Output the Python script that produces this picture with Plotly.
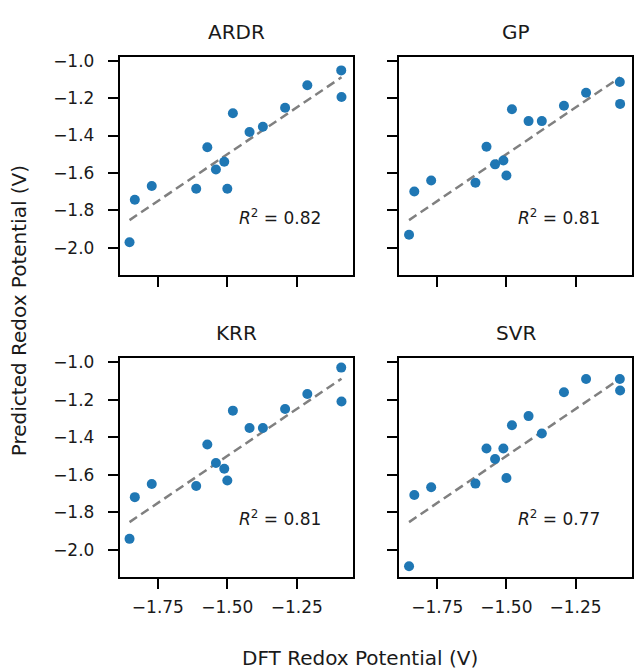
import plotly.graph_objects as go

# DFT-computed redox potentials (V), shared by every model
dft = [-1.852, -1.833, -1.772, -1.612, -1.572, -1.541, -1.511, -1.500,
       -1.480, -1.420, -1.372, -1.292, -1.212, -1.090, -1.089]

# Model predictions (V)
models = ["ARDR", "GP", "KRR", "SVR"]
pred_ardr = [-1.970, -1.743, -1.670, -1.684, -1.463, -1.582, -1.540, -1.684,
             -1.281, -1.381, -1.353, -1.252, -1.131, -1.052, -1.194]
pred_gp = [-1.930, -1.699, -1.640, -1.652, -1.460, -1.554, -1.533, -1.614,
           -1.260, -1.323, -1.323, -1.241, -1.171, -1.114, -1.231]
pred_krr = [-1.941, -1.719, -1.649, -1.660, -1.439, -1.537, -1.568, -1.631,
            -1.259, -1.351, -1.351, -1.250, -1.170, -1.030, -1.210]
pred_svr = [-2.087, -1.708, -1.666, -1.647, -1.460, -1.516, -1.460, -1.617,
            -1.337, -1.288, -1.381, -1.161, -1.091, -1.091, -1.152]
r2_scores = [0.82, 0.81, 0.81, 0.77]

x_tickvals = [-1.75, -1.50, -1.25]
x_ticktext = ["\u22121.75", "\u22121.50", "\u22121.25"]
y_tickvals = [-1.0, -1.2, -1.4, -1.6, -1.8, -2.0]
y_ticktext = ["\u22121.0", "\u22121.2", "\u22121.4", "\u22121.6", "\u22121.8", "\u22122.0"]

preds = [pred_ardr, pred_gp, pred_krr, pred_svr]

W, H = 634, 670
FONT = "DejaVu Sans"
TXT = "#1a1a1a"

# panel boxes in pixels: (left, right, top, bottom)
col_px = [(120, 354), (400, 633)]
row_px = [(51, 271), (355, 576)]

x_range = [-1.887, -1.046]
y_range = [-2.143, -0.978]

fig = go.Figure()
layout = dict(
    width=W, height=H,
    margin=dict(l=0, r=0, t=0, b=0),
    paper_bgcolor="white", plot_bgcolor="white",
    showlegend=False,
    font=dict(family=FONT, size=17, color=TXT),
)
annotations = []

line_lo, line_hi = min(dft), max(dft)

for i, name in enumerate(models):
    r, c = divmod(i, 2)
    n = i + 1
    xa = "x" if n == 1 else f"x{n}"
    ya = "y" if n == 1 else f"y{n}"
    xkey = "xaxis" if n == 1 else f"xaxis{n}"
    ykey = "yaxis" if n == 1 else f"yaxis{n}"

    # identity reference line y = x
    fig.add_trace(go.Scatter(
        x=[line_lo, line_hi], y=[line_lo, line_hi], mode="lines",
        line=dict(color="#808080", width=2.5, dash="9px,5px"),
        xaxis=xa, yaxis=ya, hoverinfo="skip"))
    fig.add_trace(go.Scatter(
        x=dft, y=preds[i], mode="markers",
        marker=dict(color="#1f77b4", size=10, line=dict(width=0)),
        xaxis=xa, yaxis=ya))

    l, rr = col_px[c]
    t, b = row_px[r]
    axis_common = dict(
        showline=True, linecolor="black", linewidth=2, mirror=True,
        ticks="outside", ticklen=10, tickwidth=2, tickcolor="black",
        showgrid=False, zeroline=False,
        tickfont=dict(family=FONT, size=17, color=TXT),
    )
    layout[xkey] = dict(
        axis_common, domain=[l / W, rr / W], range=x_range,
        tickvals=x_tickvals, ticktext=x_ticktext,
        showticklabels=(r == 1), anchor=ya, ticklabelstandoff=4,
    )
    layout[ykey] = dict(
        axis_common, domain=[1 - b / H, 1 - t / H], range=y_range,
        tickvals=y_tickvals, ticktext=y_ticktext,
        showticklabels=(c == 0), anchor=xa, ticklabelstandoff=10,
    )

    # panel title
    annotations.append(dict(
        text=name, xref="paper", yref="paper",
        x=(l + rr) / 2 / W, y=1 - (t - 25) / H,
        xanchor="center", yanchor="middle", showarrow=False,
        font=dict(family=FONT, size=20, color=TXT)))
    # R^2 label
    annotations.append(dict(
        text=f"<i>R</i><sup>2</sup> = {r2_scores[i]:.2f}",
        xref=f"{xa} domain", yref=f"{ya} domain",
        x=0.5, y=(b - 213 + 51 - t + (t - 51)) / (b - t) if False else (b - (t + 162)) / (b - t),
        xanchor="left", yanchor="middle", showarrow=False,
        font=dict(family=FONT, size=17, color=TXT)))

# shared axis labels
annotations.append(dict(
    text="DFT Redox Potential (V)", xref="paper", yref="paper",
    x=361 / W, y=1 - 658 / H, xanchor="center", yanchor="middle",
    showarrow=False, font=dict(family=FONT, size=20, color=TXT)))
annotations.append(dict(
    text="Predicted Redox Potential (V)", xref="paper", yref="paper",
    x=19 / W, y=1 - 307 / H, xanchor="center", yanchor="middle",
    textangle=-90, showarrow=False, font=dict(family=FONT, size=20, color=TXT)))

layout["annotations"] = annotations
fig.update_layout(**layout)
fig.write_html("out.html")
